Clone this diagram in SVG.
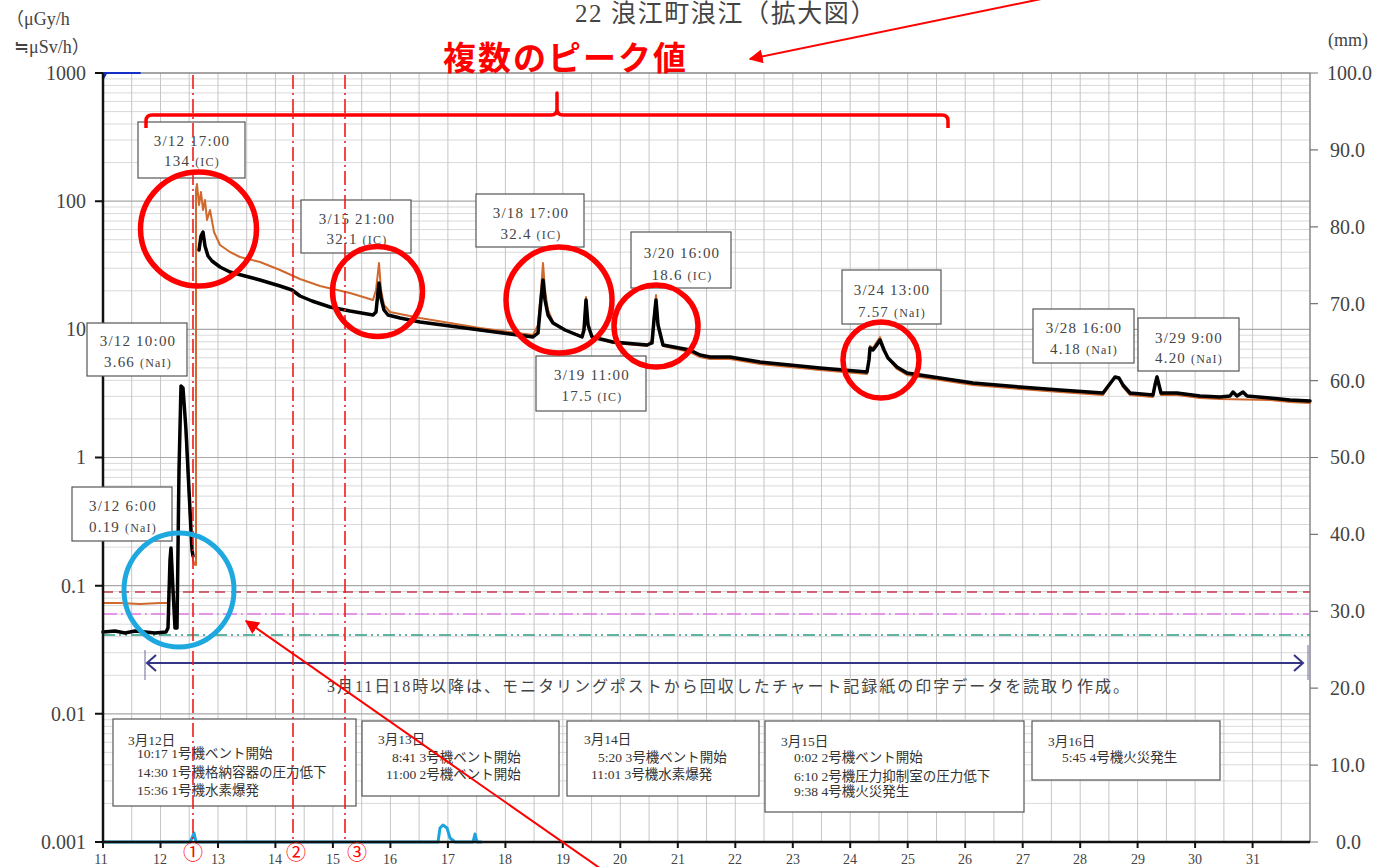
<svg xmlns="http://www.w3.org/2000/svg" width="1384" height="867" viewBox="0 0 1384 867">
<defs>
<style>
.t{font-family:'Liberation Serif','Noto Sans CJK JP',serif;fill:#444}
.ax{font-size:20px}
.day{font-size:14px;text-anchor:middle}
.pk{font-size:15px;text-anchor:middle;letter-spacing:1.2px}
.pk tspan.s{font-size:12px}
.ev{font-size:13.5px;fill:#333}
.box{fill:#fff;stroke:#555;stroke-width:1.2}
.gm{stroke:#d9d9d9;stroke-width:1;fill:none}
.gd{stroke:#a8a8a8;stroke-width:1.2;fill:none}
.gv{stroke:#c6c6c6;stroke-width:1;fill:none}
.rv{stroke:#ee1c1c;stroke-width:1.6;stroke-dasharray:14 4 2 4;fill:none}
.rc{fill:none;stroke:#ff0000;stroke-width:5.5}
.ra{stroke:#ff0000;stroke-width:2;fill:none}
</style>
<marker id="ahb" viewBox="0 0 10 10" refX="9" refY="5" markerWidth="14" markerHeight="14" markerUnits="userSpaceOnUse" orient="auto">
<path d="M0,0 L10,5 L0,10 z" fill="#ff0000"/>
</marker>
</defs>
<rect width="1384" height="867" fill="#fff"/>

<!-- grid -->
<g id="grid">
<path class="gm" d="M103,803.4H1310M103,780.9H1310M103,764.8H1310M103,752.4H1310M103,742.3H1310M103,733.7H1310M103,726.3H1310M103,719.7H1310
M103,675.3H1310M103,652.7H1310M103,636.7H1310M103,624.2H1310M103,614.1H1310M103,605.5H1310M103,598.1H1310M103,591.5H1310
M103,547.1H1310M103,524.5H1310M103,508.5H1310M103,496.1H1310M103,485.9H1310M103,477.4H1310M103,469.9H1310M103,463.4H1310
M103,418.9H1310M103,396.4H1310M103,380.3H1310M103,367.9H1310M103,357.8H1310M103,349.2H1310M103,341.8H1310M103,335.2H1310
M103,290.8H1310M103,268.2H1310M103,252.2H1310M103,239.7H1310M103,229.6H1310M103,221H1310M103,213.6H1310M103,207H1310
M103,162.6H1310M103,140H1310M103,124H1310M103,111.6H1310M103,101.4H1310M103,92.9H1310M103,85.4H1310M103,78.9H1310"/>
<path class="gv" d="M131.7,73V842M160.5,73V842M189.2,73V842M218,73V842M246.7,73V842M275.4,73V842M304.2,73V842M332.9,73V842M361.7,73V842M390.4,73V842M419.1,73V842M447.9,73V842M476.6,73V842M505.4,73V842M534.1,73V842M562.8,73V842M591.6,73V842M620.3,73V842M649.1,73V842M677.8,73V842M706.5,73V842M735.3,73V842M764,73V842M792.8,73V842M821.5,73V842M850.2,73V842M879,73V842M907.7,73V842M936.5,73V842M965.2,73V842M993.9,73V842M1022.7,73V842M1051.4,73V842M1080.2,73V842M1108.9,73V842M1137.6,73V842M1166.4,73V842M1195.1,73V842M1223.9,73V842M1252.6,73V842M1281.3,73V842"/>
<path class="gd" d="M103,713.8H1310M103,585.7H1310M103,457.5H1310M103,329.3H1310M103,201.2H1310"/>
<path d="M103,73H1310M1310,73V842" stroke="#888" stroke-width="1.5" fill="none"/>
</g>

<!-- reference lines -->
<g id="reflines">
<path d="M103,592H1310" stroke="#c23a48" stroke-width="1.5" stroke-dasharray="10 6" fill="none"/>
<path d="M103,614H1310" stroke="#e07ae6" stroke-width="1.3" stroke-dasharray="14 4 2 4" fill="none"/>
<path d="M103,635H1310" stroke="#2c9c84" stroke-width="1.5" stroke-dasharray="12 4 2 4 2 4" fill="none"/>
</g>

<!-- event boxes -->
<g id="ev1"><rect class="box" x="113" y="719" width="243" height="87"/>
<text class="t ev" x="128" y="745" font-size="12.5">3月12日</text>
<text class="t ev" x="137" y="758">10:17 1号機ベント開始</text>
<text class="t ev" x="137" y="777">14:30 1号機格納容器の圧力低下</text>
<text class="t ev" x="137" y="795">15:36 1号機水素爆発</text></g>
<g id="ev2"><rect class="box" x="362" y="721" width="197" height="75"/>
<text class="t ev" x="378" y="744" font-size="12.5">3月13日</text>
<text class="t ev" x="392" y="762">8:41 3号機ベント開始</text>
<text class="t ev" x="386" y="779">11:00 2号機ベント開始</text></g>
<g id="ev3"><rect class="box" x="567" y="721" width="192" height="75"/>
<text class="t ev" x="584" y="744" font-size="12.5">3月14日</text>
<text class="t ev" x="598" y="762">5:20 3号機ベント開始</text>
<text class="t ev" x="591" y="779">11:01 3号機水素爆発</text></g>
<g id="ev4"><rect class="box" x="765" y="721" width="259" height="91"/>
<text class="t ev" x="781" y="746" font-size="12.5">3月15日</text>
<text class="t ev" x="794" y="762">0:02 2号機ベント開始</text>
<text class="t ev" x="794" y="781">6:10 2号機圧力抑制室の圧力低下</text>
<text class="t ev" x="794" y="796">9:38 4号機火災発生</text></g>
<g id="ev5"><rect class="box" x="1032" y="721" width="188" height="59"/>
<text class="t ev" x="1048" y="746" font-size="12.5">3月16日</text>
<text class="t ev" x="1062" y="762">5:45 4号機火災発生</text></g>

<!-- traces -->
<g id="traces" fill="none" stroke-linejoin="round" stroke-linecap="round">
<path d="M103,842H190L192,838L194,833L196,842H438L440,828L443,825L447,828L450,838L455,842H473L475,834L477,842H481" stroke="#1fa3dc" stroke-width="3"/>
<path d="M103,73H140" stroke="#1530c8" stroke-width="2"/>
<path d="M103,73L107,73L104,78z" fill="#1530c8" stroke="#1530c8" stroke-width="1"/>
<path d="M103,603L120,603L140,604L160,603L168,603L170,570L171,560L173,590L175,615L177,610L179,480L181,390L184,400L187,460L190,520L193,560L195,565" stroke="#d0692e" stroke-width="2"/>
<path d="M196,565L196,190L197,184L199,205L201,192L203,210L205,200L207,220L210,210L214,232L220,245L230,252L240,257L260,262L280,270L300,279L320,286L350,293L373,300L376,290L379,263L381,290L384,305L390,312L420,318L480,328L533,335L538,325L541,290L543,263L545,290L548,310L553,322L565,330L582,336L584,325L586,297L588,322L592,337L613,343L647,346L652,340L654,315L656,295L658,322L663,346L690,352L700,357L710,359L730,359L760,364L790,367L820,370L867,374L869,358L870,346L873,348L876,343L880,337L884,348L888,358L897,369L907,375L940,380L973,385L1020,389L1060,392L1103,395L1109,386L1115,377L1119,379L1123,387L1130,395L1153,397L1155,386L1157,376L1159,386L1161,395L1177,395L1200,398L1220,399L1270,400L1290,402L1310,403" stroke="#d0692e" stroke-width="2"/>
<path d="M103,632L115,631L125,633L135,631L145,632L155,633L166,632L168,628L170,560L171,548L173,590L175,628L177,628L179,470L181,386L183,388L186,430L189,490L192,550L193,556" stroke="#000" stroke-width="3.5"/>
<path d="M199,250L201,236L203,232L205,246L208,256L212,261L220,267L230,272L245,276L260,280L280,286L292,290L300,296L312,301L330,307L350,311L373,315L376,312L378,292L379,283L381,298L384,310L388,315L400,318L420,322L450,326L480,330L510,334L533,337L538,333L541,300L543,280L545,300L548,315L553,323L565,330L582,337L584,330L586,300L588,325L592,337L613,342L647,345L652,343L654,320L656,300L658,325L663,345L690,350L700,355L710,357L730,357L760,362L790,365L820,368L867,372L869,360L870,348L873,350L876,346L880,340L884,350L888,358L897,367L907,373L940,378L973,383L1020,387L1060,390L1103,393L1109,385L1115,377L1119,378L1123,385L1130,393L1153,395L1155,385L1157,377L1159,385L1161,393L1177,393L1200,396L1220,397L1230,396L1233,392L1237,396L1243,392L1247,396L1270,398L1290,400L1310,401" stroke="#000" stroke-width="3.5"/>
</g>

<!-- axes -->
<g id="axes">
<path d="M103,73V842H1310" stroke="#111" stroke-width="2.5" fill="none"/>
<path d="M95,73H103M95,201.2H103M95,329.3H103M95,457.5H103M95,585.7H103M95,713.8H103M95,842H103" stroke="#111" stroke-width="2"/>
<path d="M103,842V848M160.5,842V848M218,842V848M275.4,842V848M332.9,842V848M390.4,842V848M447.9,842V848M505.4,842V848M562.8,842V848M620.3,842V848M677.8,842V848M735.3,842V848M792.8,842V848M850.2,842V848M907.7,842V848M965.2,842V848M1022.7,842V848M1080.2,842V848M1137.6,842V848M1195.1,842V848M1252.6,842V848" stroke="#111" stroke-width="2"/>
<path d="M1310,73H1318M1310,149.9H1318M1310,226.8H1318M1310,303.7H1318M1310,380.6H1318M1310,457.5H1318M1310,534.4H1318M1310,611.3H1318M1310,688.2H1318M1310,765.1H1318M1310,842H1318" stroke="#777" stroke-width="1.2"/>
<g class="t ax" text-anchor="end">
<text x="86" y="80">1000</text>
<text x="86" y="208">100</text>
<text x="86" y="336">10</text>
<text x="86" y="464">1</text>
<text x="86" y="593">0.1</text>
<text x="86" y="721">0.01</text>
<text x="86" y="849">0.001</text>
</g>
<g class="t ax">
<text x="1327" y="80">100.0</text>
<text x="1330" y="157">90.0</text>
<text x="1330" y="234">80.0</text>
<text x="1330" y="311">70.0</text>
<text x="1330" y="388">60.0</text>
<text x="1330" y="464">50.0</text>
<text x="1330" y="541">40.0</text>
<text x="1330" y="618">30.0</text>
<text x="1330" y="695">20.0</text>
<text x="1330" y="772">10.0</text>
<text x="1336" y="849">0.0</text>
</g>
<g class="t day">
<text x="101" y="864">11</text><text x="160" y="864">12</text><text x="218" y="864">13</text><text x="275" y="864">14</text><text x="333" y="864">15</text><text x="390" y="864">16</text><text x="448" y="864">17</text><text x="505" y="864">18</text><text x="563" y="864">19</text><text x="620" y="864">20</text><text x="678" y="864">21</text><text x="735" y="864">22</text><text x="793" y="864">23</text><text x="850" y="864">24</text><text x="908" y="864">25</text><text x="965" y="864">26</text><text x="1023" y="864">27</text><text x="1080" y="864">28</text><text x="1138" y="864">29</text><text x="1195" y="864">30</text><text x="1253" y="864">31</text>
</g>
<text class="t" x="6" y="25" font-size="18">（μGy/h</text>
<text class="t" x="14" y="53" font-size="18">≒μSv/h）</text>
<text class="t" x="1328" y="46" font-size="18">(mm)</text>
<text class="t" x="575" y="22" font-size="25" letter-spacing="1.6">22 浪江町浪江（拡大図）</text>
</g>

<!-- navy range arrow -->
<g id="range">
<path d="M145,650V680M1308,645V680" stroke="#6a6a9a" stroke-width="1"/>
<path d="M147,663H1303M156,655L147,663L156,671M1294,655L1303,663L1294,671" stroke="#353585" stroke-width="2" fill="none"/>
<text class="t" x="327" y="692" font-size="16" fill="#555" textLength="802" lengthAdjust="spacing">3月11日18時以降は、モニタリングポストから回収したチャート記録紙の印字データを読取り作成。</text>
</g>

<!-- peak label boxes -->
<g id="p1"><rect class="box" x="138" y="122" width="107" height="56"/><text class="t pk" x="192" y="146">3/12 17:00</text><text class="t pk" x="192" y="166">134 <tspan class="s">(IC)</tspan></text></g>
<g id="p2"><rect class="box" x="87" y="323" width="100" height="53"/><text class="t pk" x="138" y="346">3/12 10:00</text><text class="t pk" x="138" y="367">3.66 <tspan class="s">(NaI)</tspan></text></g>
<g id="p3"><rect class="box" x="72" y="487" width="100" height="54"/><text class="t pk" x="123" y="511">3/12 6:00</text><text class="t pk" x="123" y="532">0.19 <tspan class="s">(NaI)</tspan></text></g>
<g id="p4"><rect class="box" x="301" y="200" width="110" height="53"/><text class="t pk" x="357" y="224">3/15 21:00</text><text class="t pk" x="357" y="244">32.1 <tspan class="s">(IC)</tspan></text></g>
<g id="p5"><rect class="box" x="476" y="194" width="108" height="53"/><text class="t pk" x="531" y="218">3/18 17:00</text><text class="t pk" x="531" y="239">32.4 <tspan class="s">(IC)</tspan></text></g>
<g id="p6"><rect class="box" x="631" y="232" width="100" height="56"/><text class="t pk" x="682" y="258">3/20 16:00</text><text class="t pk" x="682" y="280">18.6 <tspan class="s">(IC)</tspan></text></g>
<g id="p7"><rect class="box" x="536" y="356" width="110" height="55"/><text class="t pk" x="592" y="380">3/19 11:00</text><text class="t pk" x="592" y="401">17.5 <tspan class="s">(IC)</tspan></text></g>
<g id="p8"><rect class="box" x="842" y="270" width="99" height="54"/><text class="t pk" x="892" y="295">3/24 13:00</text><text class="t pk" x="892" y="317">7.57 <tspan class="s">(NaI)</tspan></text></g>
<g id="p9"><rect class="box" x="1033" y="309" width="101" height="54"/><text class="t pk" x="1084" y="333">3/28 16:00</text><text class="t pk" x="1084" y="354">4.18 <tspan class="s">(NaI)</tspan></text></g>
<g id="p10"><rect class="box" x="1138" y="318" width="101" height="53"/><text class="t pk" x="1189" y="343">3/29 9:00</text><text class="t pk" x="1189" y="363">4.20 <tspan class="s">(NaI)</tspan></text></g>

<!-- red vertical event lines -->
<g id="events">
<path class="rv" d="M193,75V842M293,75V842M345,75V842"/>
<g font-family="'Noto Sans CJK JP',sans-serif" font-size="20" fill="#ff0000" text-anchor="middle">
<text x="193" y="860">①</text><text x="296" y="860">②</text><text x="357" y="860">③</text>
</g>
</g>

<!-- highlight circles -->
<g id="circles">
<ellipse class="rc" cx="198.5" cy="229" rx="58" ry="57"/>
<ellipse class="rc" cx="377.5" cy="291.5" rx="45" ry="45"/>
<ellipse class="rc" cx="559" cy="300" rx="53" ry="53"/>
<ellipse class="rc" cx="656" cy="326" rx="42" ry="41"/>
<ellipse class="rc" cx="881" cy="360" rx="38" ry="38"/>
<ellipse cx="179" cy="590" rx="55" ry="57" fill="none" stroke="#1ea8e0" stroke-width="5"/>
</g>

<!-- annotation -->
<g id="annotation">
<text x="443" y="70" font-family="'Noto Sans CJK JP',sans-serif" font-size="33" font-weight="bold" letter-spacing="2" fill="#ff0000">複数のピーク値</text>
<path d="M146,128V121Q146,115 152,115H551Q557,115 557,109V93V109Q557,115 563,115H942Q948,115 948,121V128" stroke="#ff0000" stroke-width="3.5" fill="none" stroke-linejoin="round"/>
</g>

<!-- connectors -->
<g id="connectors">
<path class="ra" d="M1046,-2L750,59" marker-end="url(#ahb)"/>
<path class="ra" d="M604,871L246,621" marker-end="url(#ahb)"/>
</g>
</svg>
